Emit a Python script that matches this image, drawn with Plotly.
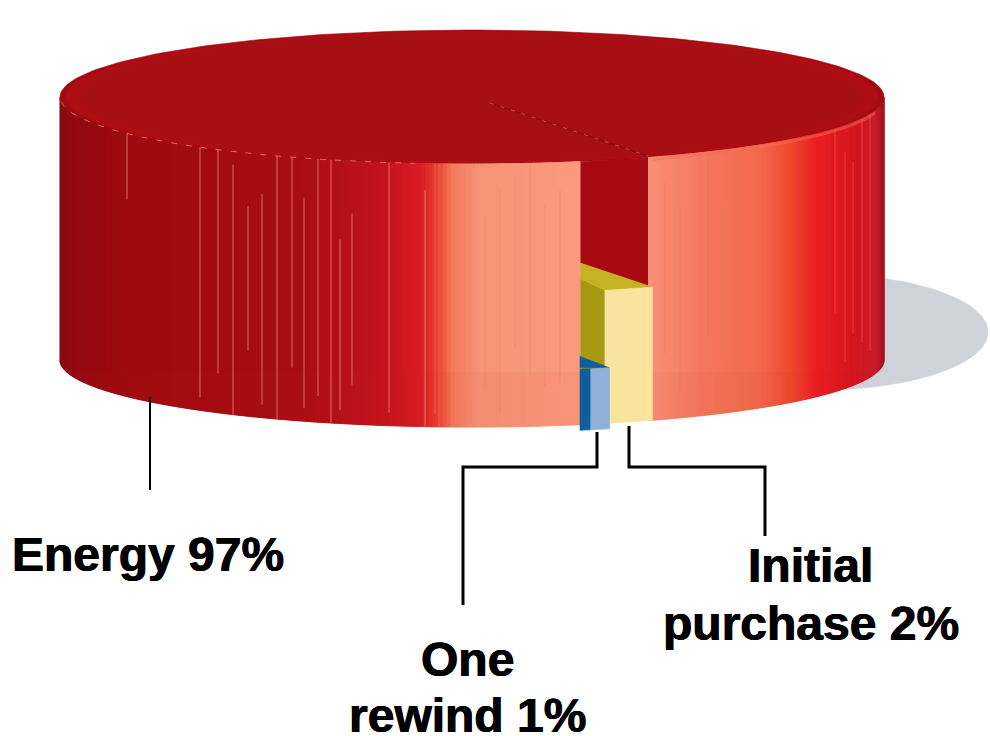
import numpy as np
import plotly.graph_objects as go

# ---- data ----
categories = ["Energy", "Initial purchase", "One rewind"]
shares = [97, 2, 1]
slice_height_fractions = [1.0, 0.506, 0.232]

# ---- projection of the cylinder onto the page axes ----
CX, RX, RY = 472.0, 412.0, 67.0
Y_TOP, Y_BOT = 97.0, 360.0
START_DEG = 15.2  # angle (from the front, clockwise on screen) where the small slices begin
H = Y_BOT - Y_TOP

wall_stops_x = [60, 130, 300, 380, 420, 438, 452, 480, 575, 650, 700, 760, 790, 815, 850, 875, 884]
wall_stops_c = [(142, 10, 16), (160, 10, 16), (168, 14, 20), (194, 20, 28), (217, 28, 36), (232, 64, 47),
                (244, 122, 92), (246, 148, 120), (251, 154, 128), (250, 144, 120), (244, 122, 96),
                (242, 106, 74), (238, 75, 48), (236, 32, 36), (216, 22, 32), (200, 30, 44), (160, 16, 24)]

streak_x = [127, 200, 218, 233, 248, 262, 277, 292, 304, 318, 331, 340, 352, 389, 425, 435, 439,
            455, 470, 485, 500, 515, 530, 545, 560, 665, 680, 700, 708, 722, 745, 770, 835, 845, 853, 862, 870]
streak_top = [0.0, 0.0, 0.0, 0.05, 0.2, 0.15, 0.0, 0.0, 0.15, 0.0, 0.0, 0.3, 0.2, 0.0, 0.1, 0.0, 0.0,
              0.0, 0.0, 0.2, 0.1, 0.05, 0.0, 0.15, 0.1, 0.1, 0.2, 0.0, 0.0, 0.2, 0.1, 0.0, 0.0, 0.1, 0.15, 0.0, 0.0]
streak_bot = [0.25, 0.95, 0.85, 1.0, 0.75, 0.95, 1.0, 0.8, 0.95, 0.9, 1.0, 0.95, 0.85, 0.95, 1.0, 0.95, 1.0,
              0.8, 0.9, 0.85, 0.95, 0.7, 0.8, 0.85, 0.85, 0.75, 0.9, 0.85, 0.7, 0.8, 0.85, 0.9, 0.7, 0.9, 0.8, 0.85, 0.9]
streak_col = ["rgba(240,140,125,0.75)"] * 15 + ["rgba(255,190,165,0.3)"] * 2 + \
             ["rgba(232,120,92,0.35)"] * 8 + ["rgba(232,110,84,0.35)"] * 6 + ["rgba(255,90,80,0.6)"] * 6


def rim(theta_deg, y0=0.0, scale=1.0, base=Y_BOT):
    t = np.radians(np.asarray(theta_deg, dtype=float))
    return CX + RX * scale * np.sin(t), base + y0 + RY * scale * np.cos(t)


def wall_colour(x):
    return "rgb(%d,%d,%d)" % tuple(np.interp(x, wall_stops_x, [c[i] for c in wall_stops_c]) for i in range(3))


fig = go.Figure()


def poly(xs, ys, colour, line_w=0.6):
    fig.add_trace(go.Scatter(x=list(xs), y=list(ys), mode="lines", fill="toself", fillcolor=colour,
                             line=dict(color=colour, width=line_w), hoverinfo="skip", showlegend=False))


def line(xs, ys, colour, w, dash=None):
    fig.add_trace(go.Scatter(x=list(xs), y=list(ys), mode="lines", hoverinfo="skip", showlegend=False,
                             line=dict(color=colour, width=w, dash=dash)))


def strip(t0, t1, h, colour, scale=1.0, dy=0.0):
    ts = np.linspace(t0, t1, 4)
    xa, ya = rim(ts, dy, scale)
    xb, yb = rim(ts[::-1], dy - h, scale)
    poly(list(xa) + list(xb), list(ya) + list(yb), colour)


# angular extent of each slice from its share
deg = [s / sum(shares) * 360 for s in shares]
t_rewind0 = START_DEG
t_rewind1 = t_rewind0 + deg[2]
t_init1 = t_rewind1 + deg[1]
h_init = slice_height_fractions[1] * H
h_rew = slice_height_fractions[2] * H

# cast shadow
a = np.linspace(0, 2 * np.pi, 120)
poly(820 + 168 * np.cos(a), 332 + 58 * np.sin(a), "#cfd3d9")

# top face
all_t = np.linspace(0, 360, 240)
for sc, col in zip([1.0, 0.985, 0.95], ["#a00b12", "#ae0d14", "#a80f15"]):
    x, y = rim(all_t, scale=sc, base=Y_TOP)
    poly(x, y, col)

# the cut-out: dark inner faces
xr, yr = rim(t_init1, base=Y_TOP)
xl, yl = rim(t_rewind0, base=Y_TOP)
xr2, yr2 = rim(t_init1, -h_init)
poly([xl, xr, xr2, CX], [yl, yr, yr2, Y_BOT - h_init], "#a60a10")

# initial purchase: radial face then top face
xi0b, yi0b = rim(t_rewind1, 0)
xi0t, yi0t = rim(t_rewind1, -h_init)
poly([CX, xi0t, xi0b, CX], [Y_BOT - h_init, yi0t, yi0b, Y_BOT], "#a89a10")
poly([CX, xi0t, xr2, CX], [Y_BOT - h_init, yi0t, yr2, Y_BOT - h_init], "#c4b424")

# energy wall, made of narrow overlapping strips drawn from the outside in
step = 0.5
left = np.arange(-90, t_rewind0, step)
right = np.arange(90 - step, t_init1 - 0.7 - step, -step)
for t in left:
    x_mid = CX + RX * np.sin(np.radians(t + step / 2))
    strip(t, min(t + step + 0.6, t_rewind0), H, wall_colour(x_mid))
for t in right:
    x_mid = CX + RX * np.sin(np.radians(t + step / 2))
    strip(max(t - 0.6, t_init1 - 0.7), t + step, H, wall_colour(x_mid))

# lower band of the wall
band_t = np.linspace(-90, t_rewind0, 100)
bx, by = rim(band_t)
poly(list(bx) + [bx[-1], bx[0]], list(by) + [372, 372], "rgba(190,30,20,0.05)", 0)
band_t = np.linspace(t_init1 - 0.7, 90, 60)
bx, by = rim(band_t)
poly(list(bx) + [bx[-1], bx[0]], list(by) + [372, 372], "rgba(190,30,20,0.05)", 0)

for sx, st, sb, sc in zip(streak_x, streak_top, streak_bot, streak_col):
    th = np.degrees(np.arcsin((sx - CX) / RX))
    _, yb_s = rim(th)
    _, yt_s = rim(th, base=Y_TOP)
    line([sx, sx], [yt_s + st * (yb_s - yt_s), yt_s + sb * (yb_s - yt_s)], sc, 1)

rx_t, ry_t = rim(np.linspace(-86, -8, 120), base=Y_TOP)
line(rx_t, ry_t, "rgba(240,140,125,0.75)", 1, "6px,9px")
rx_t, ry_t = rim(np.linspace(t_init1, 78, 60), base=Y_TOP)
line(rx_t, ry_t + 2, "rgba(244,110,90,0.5)", 3)

# radial edge on the top face
line([CX + (xr - CX) * 0.1, xr - 4], [Y_TOP + (yr - Y_TOP) * 0.1, yr - 1], "#8f0a10", 1.5)
line([CX + (xr - CX) * 0.1, xr - 4], [Y_TOP + (yr - Y_TOP) * 0.1, yr - 1], "rgba(225,110,100,0.65)", 1.2, "4px,7px")

# initial purchase front, standing slightly proud of the wall
for t in np.linspace(t_rewind1, t_init1, 9)[:-1]:
    strip(t, t + deg[1] / 8, h_init, "#f8e49c")

# one rewind: slightly pulled out
t_r0, t_r1 = t_rewind0 - 0.2, t_rewind1 + 0.5
split = t_r0 + (t_r1 - t_r0) * 0.36
xt0, yt0 = rim(t_r0, 5 - h_rew, 1.01)
xt1, yt1 = rim(t_r1, 5 - h_rew, 1.01)
poly([xt0, xt1, xt0], [yt0 - 13, yt1, yt1], "#0f5f9e")
strip(t_r0, split, h_rew, "#0f5f9e", 1.01, 5)
strip(split, t_r1, h_rew, "#8fb0d8", 1.01, 5)

# leader lines
line([150, 150], [397, 490], "black", 2)
line([597, 597, 463, 463], [432, 467, 467, 605], "black", 3)
line([629, 629, 765, 765], [426, 467, 467, 536], "black", 3)

labels = [(148, 554, "Energy 97%"), (810, 565, "Initial"), (811, 623, "purchase 2%"),
          (467, 659, "One"), (467, 715, "rewind 1%")]
for lx, ly, txt in labels:
    fig.add_annotation(x=lx, y=ly, text=txt, showarrow=False, xanchor="center", yanchor="middle",
                       font=dict(family="Liberation Sans", size=48, color="black", weight="bold",
                                 shadow="0.5px 0 0 black, -0.5px 0 0 black"))

fig.update_layout(width=990, height=736, margin=dict(l=0, r=0, t=0, b=0), paper_bgcolor="white",
                  plot_bgcolor="white", showlegend=False,
                  xaxis=dict(range=[0, 990], visible=False, fixedrange=True),
                  yaxis=dict(range=[736, 0], visible=False, fixedrange=True))
fig.write_html("out.html", config=dict(displayModeBar=False),
               post_script="document.body.style.margin='0';document.body.style.overflow='hidden';")
